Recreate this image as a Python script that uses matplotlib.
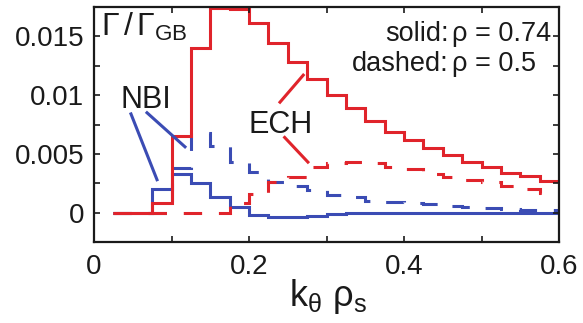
import matplotlib
matplotlib.use("Agg")
import matplotlib.pyplot as plt
import numpy as np

plt.rcParams['font.family'] = ['Liberation Sans', 'DejaVu Sans']
plt.rcParams['mathtext.fontset'] = 'custom'
plt.rcParams['mathtext.rm'] = 'Liberation Sans'
plt.rcParams['mathtext.it'] = 'Liberation Sans'

# bin edges in k_theta rho_s
k_edges = [0.025, 0.05, 0.075, 0.1, 0.125, 0.15, 0.175, 0.2, 0.225, 0.25, 0.275,
           0.3, 0.325, 0.35, 0.375, 0.4, 0.425, 0.45, 0.475, 0.5, 0.525, 0.55,
           0.575, 0.6]

# ECH, rho = 0.74 (solid)
ech_solid = [0.0, 0.0, 0.00085, 0.0065, 0.0140, 0.0174, 0.0173, 0.0161, 0.01447,
             0.01285, 0.0114, 0.0100, 0.0089, 0.0078, 0.0069, 0.0062, 0.0055,
             0.0049, 0.00434, 0.0039, 0.0034, 0.0031, 0.0027]
# ECH, rho = 0.5 (dashed)
ech_dashed = [0.0, 0.0, 0.0, 0.0, 0.0, 0.0, 0.0008, 0.0016, 0.0026, 0.0030,
              0.0039, 0.0042, 0.0043, 0.0042, 0.0039, 0.0037, 0.0033, 0.0030,
              0.0028, 0.0026, 0.0023, 0.0020, 0.0017]
# NBI, rho = 0.74 (solid)
nbi_solid = [0.0, 0.0, 0.0020, 0.0033, 0.0025, 0.0013, 0.0005, -0.00017,
             -0.0004, -0.0004, -0.00025, -0.0001, 0.0, 0.0, 0.0, 0.0, 0.0, 0.0,
             0.0, 0.0, 0.0, 0.0, 0.0]
# NBI, rho = 0.5 (dashed)
nbi_dashed = [0.0, 0.0, 0.0, 0.0038, 0.0068, 0.0057, 0.0043, 0.0035, 0.0026,
              0.0023, 0.0019, 0.0015, 0.0013, 0.0010, 0.0009, 0.00085, 0.0007,
              0.0006, 0.0005, 0.0004, 0.0003, 0.00025, 0.0002]

x_ticks = [0, 0.1, 0.2, 0.3, 0.4, 0.5, 0.6]
x_ticklabels = ['0', '', '0.2', '', '0.4', '', '0.6']
y_ticks = [0, 0.0025, 0.005, 0.0075, 0.01, 0.0125, 0.015]
y_ticklabels = ['0', '', '0.005', '', '0.01', '', '0.015']

RED = '#E0242B'
BLUE = '#3B4CB4'
TXT = '#1a1a1a'
LW = 2.2
DASH = (0, (6, 5.5))

fig = plt.figure(figsize=(5.83, 3.23), dpi=100)
ax = fig.add_axes([94/583, 1-242/323, (559-94)/583, (242-7)/323])

ax.stairs(nbi_dashed, k_edges, baseline=None, color=BLUE, lw=LW, linestyle=DASH)
ax.stairs(nbi_solid, k_edges, baseline=None, color=BLUE, lw=LW)
ax.stairs(ech_dashed, k_edges, baseline=None, color=RED, lw=LW, linestyle=DASH)
ax.stairs(ech_solid, k_edges, baseline=None, color=RED, lw=LW)

ax.set_xlim(0, 0.6)
ax.set_ylim(-0.0025, 0.0175)
ax.set_xticks(x_ticks)
ax.set_xticklabels(x_ticklabels)
ax.set_yticks(y_ticks)
ax.set_yticklabels(y_ticklabels)
ax.tick_params(direction='in', length=4, width=1.2, labelsize=20,
               top=True, right=True, colors=TXT)
ax.tick_params(axis='y', pad=7)
ax.tick_params(axis='x', pad=9)
for s in ax.spines.values():
    s.set_linewidth(1.6)
    s.set_color(TXT)

# axis label
ax.text(0.503, -0.15, r'$\mathregular{k_{\theta}\ \rho_s}$', transform=ax.transAxes,
        ha='center', va='top', fontsize=26, color=TXT)

# y title inside
ax.text(0.016, 0.985, r'$\mathregular{\Gamma\,/\,\Gamma_{GB}}$', transform=ax.transAxes,
        ha='left', va='top', fontsize=23, color=TXT)

# legend text
ax.text(0.762, 0.855, 'solid:', transform=ax.transAxes, ha='right',
        va='baseline', fontsize=19.5, color=TXT)
ax.text(0.770, 0.855, 'ρ = 0.74', transform=ax.transAxes, ha='left',
        va='baseline', fontsize=19.5, color=TXT)
ax.text(0.762, 0.728, 'dashed:', transform=ax.transAxes, ha='right',
        va='baseline', fontsize=19.5, color=TXT)
ax.text(0.770, 0.728, 'ρ = 0.5', transform=ax.transAxes, ha='left',
        va='baseline', fontsize=19.5, color=TXT)

# labels with pointer lines
ax.text(0.0665, 0.0089, 'NBI', ha='center', va='baseline', fontsize=22,
        color=TXT)
ax.plot([0.0477, 0.0813], [0.0084, 0.0028], color=BLUE, lw=LW)
ax.plot([0.0684, 0.1174], [0.0085, 0.0056], color=BLUE, lw=LW)

ax.text(0.2405, 0.0068, 'ECH', ha='center', va='baseline', fontsize=22,
        color=TXT)
ax.plot([0.240, 0.270], [0.0094, 0.0117], color=RED, lw=LW)
ax.plot([0.246, 0.276], [0.0064, 0.0043], color=RED, lw=LW)

fig.savefig('out.png', dpi=100)
